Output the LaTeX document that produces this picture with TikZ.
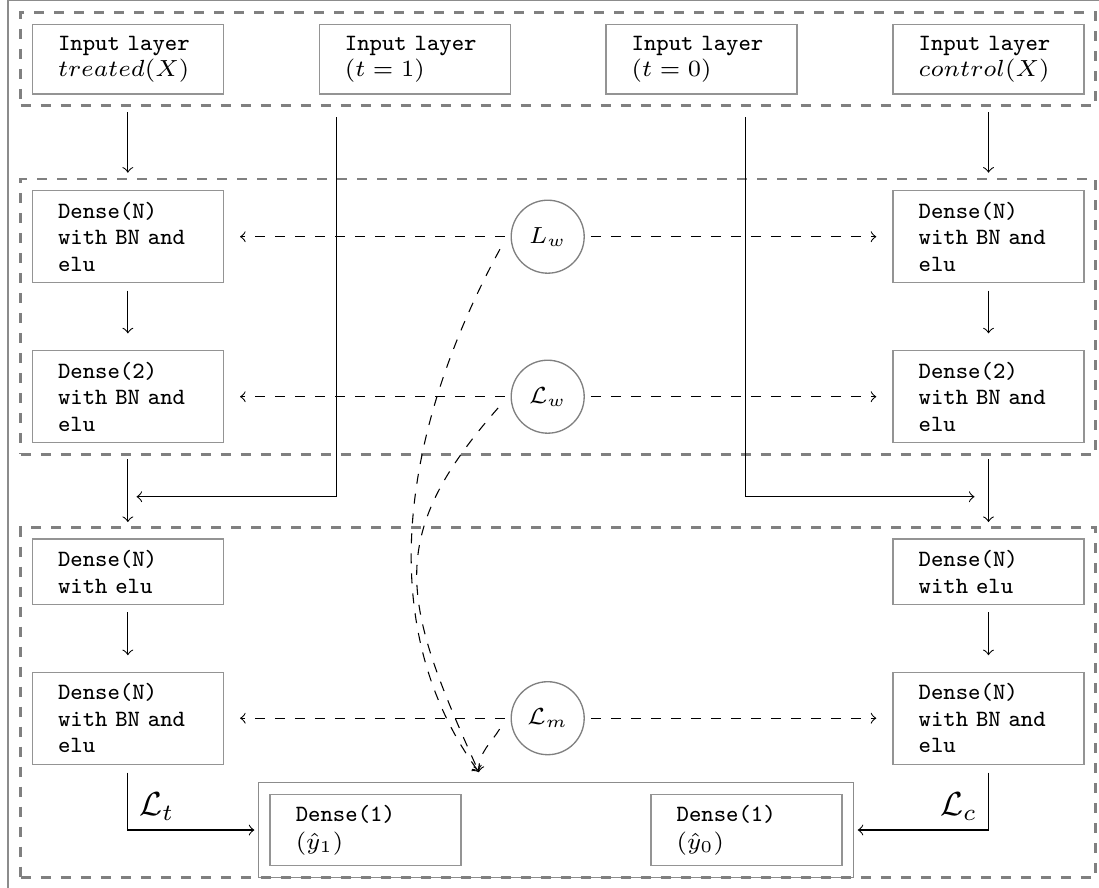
\documentclass[tikz,border=0pt]{standalone}
\usetikzlibrary{fit}

\begin{document}
\begin{tikzpicture}[x=0.3pt, y=-0.3pt,
  every node/.style={font=\scriptsize},
  box/.style={draw=black!42, line width=0.4pt, align=left, text width=41.9pt,
    inner xsep=7.7pt, inner ysep=1pt, font=\scriptsize\ttfamily},
  hin/.style={minimum height=20.9pt},
  hthree/.style={minimum height=27.6pt},
  htwo/.style={minimum height=19.6pt},
  hout/.style={minimum height=21.4pt},
  loss/.style={circle, draw=black!50, line width=0.4pt, minimum size=21.9pt,
    inner sep=0pt, outer sep=2pt},
  group/.style={draw=black!50, line width=0.8pt, dashed, inner sep=3.33pt},
  frame/.style={draw=black!45, line width=0.4pt},
  flow/.style={->, black, line width=0.32pt},
  lossflow/.style={->, dashed, black, line width=0.32pt}]

\useasboundingbox (0,0) rectangle (1099,887);
\clip (0,0) rectangle (1099,887);

% input layers
\node[box,hin] (in1) at (127.85,59.15) {Input layer\\$treated(X)$};
\node[box,hin] (in2) at (414.75,59.15) {Input layer\\$(t=1)$};
\node[box,hin] (in3) at (701.5,59.15)  {Input layer\\$(t=0)$};
\node[box,hin] (in4) at (988.5,59.15)  {Input layer\\$control(X)$};

% representation layers
\node[box,hthree] (d1) at (127.85,236.7) {Dense(N)\\with BN and\\elu};
\node[box,hthree] (d2) at (127.85,396.7) {Dense(2)\\with BN and\\elu};
\node[box,hthree] (e1) at (988.5,236.7)  {Dense(N)\\with BN and\\elu};
\node[box,hthree] (e2) at (988.5,396.7)  {Dense(2)\\with BN and\\elu};

% outcome heads
\node[box,htwo]   (d3) at (127.85,571.7) {Dense(N)\\with elu};
\node[box,hthree] (d4) at (127.85,718.2) {Dense(N)\\with BN and\\elu};
\node[box,htwo]   (e3) at (988.5,571.7)  {Dense(N)\\with elu};
\node[box,hthree] (e4) at (988.5,718.2)  {Dense(N)\\with BN and\\elu};

% outputs
\node[box,hout] (y1) at (365.65,830) {Dense(1)\\[0.3pt]$(\hat{y}_1)$};
\node[box,hout] (y0) at (746.45,830) {Dense(1)\\[0.3pt]$(\hat{y}_0)$};
\node[frame, fit=(y1)(y0), inner sep=3.33pt] (out) {};

% losses
\node[loss] (lw)  at (547.7,236.7) {$L_w$};
\node[loss] (lw2) at (547.7,396.7) {$\mathcal{L}_w$};
\node[loss] (lm)  at (547.7,718.2) {$\mathcal{L}_m$};

% groups
\node[group, fit=(in1)(in4)] (g1) {};
\node[group, fit=(d1)(e2)] (g2) {};
\node[group, fit=(d3)(e4)(y1)(y0)] (g3) {};
\node[frame, fit=(g1)(g3), inner sep=3.4pt] (all) {};

% main data flow
\draw[flow, shorten <=5.3pt, shorten >=5.2pt] (in1) -- (d1);
\draw[flow, shorten <=2.2pt, shorten >=5pt]   (d1) -- (d2);
\draw[flow, shorten <=4.7pt, shorten >=4.9pt] (d2) -- (d3);
\draw[flow, shorten <=2.2pt, shorten >=4.9pt] (d3) -- (d4);
\draw[flow, shorten <=5.3pt, shorten >=5.2pt] (in4) -- (e1);
\draw[flow, shorten <=2.2pt, shorten >=5pt]   (e1) -- (e2);
\draw[flow, shorten <=4.7pt, shorten >=4.9pt] (e2) -- (e3);
\draw[flow, shorten <=2.2pt, shorten >=4.9pt] (e3) -- (e4);

% treatment indicators joining the heads
\coordinate (t1x) at (336.7,0);
\coordinate (t0x) at (745.4,0);
\coordinate (j1) at (127.85,496.7);
\coordinate (j0) at (988.5,496.7);
\draw[flow, shorten <=6.8pt, shorten >=2.6pt] (in2.south -| t1x) |- (j1);
\draw[flow, shorten <=6.8pt, shorten >=4.2pt] (in3.south -| t0x) |- (j0);

% head outputs
\draw[flow, shorten <=2.3pt, shorten >=1pt] (d4) |-
  node[pos=0.32, right, font=\normalsize] {$\mathcal{L}_t$} (out.west);
\draw[flow, shorten <=2.3pt, shorten >=1pt] (e4) |-
  node[pos=0.32, left, font=\normalsize] {$\mathcal{L}_c$} (out.east);

% loss connections
\draw[lossflow, shorten >=4.8pt] (lw) -- (d1);
\draw[lossflow, shorten >=4.8pt] (lw) -- (e1);
\draw[lossflow, shorten >=4.8pt] (lw2) -- (d2);
\draw[lossflow, shorten >=4.8pt] (lw2) -- (e2);
\draw[lossflow, shorten >=4.8pt] (lm) -- (d4);
\draw[lossflow, shorten >=4.8pt] (lm) -- (e4);

\coordinate (merge) at (478.8,772);
\draw[lossflow, shorten <=3pt] (lw.185) .. controls (407.9,418.3) and (367.3,618.3) .. (merge);
\draw[lossflow, shorten <=3pt] (lw2.185) .. controls (382.5,539.3) and (403.2,603.7) .. (merge);
\draw[lossflow, shorten <=3pt] (lm.183) .. controls (492,742) and (478.5,752) .. (merge);
\end{tikzpicture}
\end{document}
